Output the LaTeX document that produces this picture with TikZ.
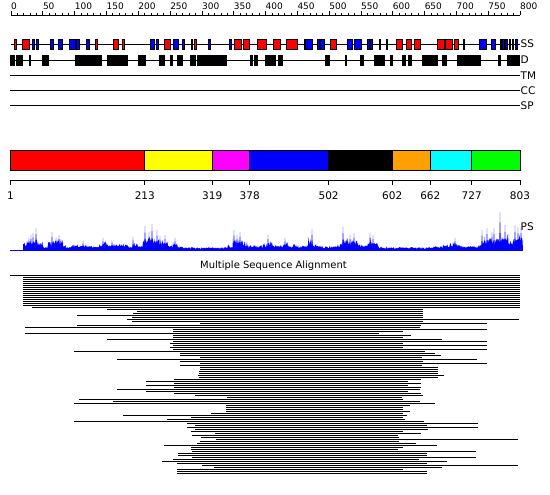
\documentclass[tikz,border=0pt]{standalone}
\usepackage{fontspec}
\setmainfont{DejaVu Sans}
\definecolor{dred}{RGB}{255,0,0}
\definecolor{dyellow}{RGB}{255,255,0}
\definecolor{dmagenta}{RGB}{255,0,255}
\definecolor{dcyan}{RGB}{0,255,255}
\definecolor{dorange}{RGB}{255,160,0}
\definecolor{dgreen}{RGB}{0,255,0}
\definecolor{psblue}{RGB}{0,0,255}
\begin{document}
\begin{tikzpicture}[x=1pt,y=-1pt,
  toplab/.style={inner sep=0pt, font=\fontsize{9}{10}\selectfont},
  botlab/.style={inner sep=0pt, font=\fontsize{10.5}{12}\selectfont},
  trklab/.style={inner sep=0pt, anchor=base west, font=\fontsize{10.5}{12}\selectfont},
  ssbox/.style={draw=black, line width=0.8pt},
  trkline/.style={line width=0.9pt},
  msa/.style={line width=1.2pt},
]
\useasboundingbox (0,0) rectangle (550,495);

% ---------- top ruler ----------
\draw[trkline] (11,15) -- (520,15);
\foreach \p in {0,10,...,800} \draw[line width=0.7pt] ({11+\p*0.63625},15) -- ({11+\p*0.63625},13);
\foreach[count=\n] \p in {0,50,...,800} {
  \draw[line width=0.7pt] ({11+\p*0.63625},15) -- ({11+\p*0.63625},11.5);
  \node[toplab, anchor=base west] (rl\n) at ({11+\p*0.63625},10) {\p};
}

% ---------- SS track ----------
\draw[trkline] (11,44) -- (520,44);
\foreach \a/\b in {14.3/16, 22.7/29.3, 95.3/97.3, 113.3/118.3, 122.3/124.3, 164.7/170.3, 194.3/196.3, 234.3/241.7, 243.3/249.3, 257.7/266, 273.3/280, 286/297.3, 330.7/336, 396.3/402.7, 406.7/411.7, 414.3/420, 437.3/444, 445.3/452.7, 454.3/458.7, 463/464.3, 509.3/510.3}
  \filldraw[ssbox, fill=dred] (\a,39.5) rectangle (\b,49);
\foreach \a/\b in {32.7/34.3, 36.3/38.3, 50.7/53.3, 58.7/62, 69.3/75.3, 76.3/79, 86.7/89.3, 150.7/154, 156/158.3, 173.3/178.3, 182.7/184.7, 191.3/192.7, 208.3/210.7, 229.3/231.3, 304/305, 305.7/312.7, 317.3/319.3, 320.7/324.3, 347.7/352.3, 354/361.7, 367.3/369, 370.7/372.7, 479.3/486, 491.7/495, 500.3/501.7, 502.7/504.3, 505.3/507, 512.3/513.7, 515.3/517}
  \filldraw[ssbox, fill=psblue] (\a,39.5) rectangle (\b,49);
\foreach \a/\b in {379.3/380.3, 386/387}
  \filldraw[ssbox, fill=black] (\a,39.5) rectangle (\b,49);
\node[trklab] (ss) at (520.5,47.7) {SS};

% ---------- D track ----------
\draw[trkline] (10,60) -- (520,60);
\foreach \a/\b in {10/14, 16/22.7, 29.3/30.7, 42/48.7, 75.3/101.7, 107.3/108, 109/115, 116.7/127.7, 138.3/145, 159/164.7, 170/172.7, 177/182, 190.7/195.3, 197/226.7, 250/252.7, 254/257.3, 265/275, 278.3/279.3, 280.7/282.3, 325/329, 345.3/346, 360.3/363.7, 374/377, 378.7/384.3, 390.7/392, 402.3/405, 408.3/411, 422.7/437.7, 442.7/446, 457.3/466, 467.7/480, 498.7/500, 507.7/514, 515/519}
  \filldraw[ssbox, fill=black] (\a,55) rectangle (\b,65);
\node[trklab] (d) at (520.5,64) {D};

% ---------- TM / CC / SP ----------
\draw[trkline] (10,75) -- (520,75);
\node[trklab] (tm) at (520.5,80) {TM};
\draw[trkline] (10,90) -- (520,90);
\node[trklab] (cc) at (520.5,95) {CC};
\draw[trkline] (10,105) -- (520,105);
\node[trklab] (sp) at (520.5,109.5) {SP};

% ---------- domain bar ----------
\foreach \a/\b/\c in {10/144.8/dred, 144.8/212.2/dyellow, 212.2/249.7/dmagenta, 249.7/328.6/psblue, 328.6/392.2/black, 392.2/430.3/dorange, 430.3/471.7/dcyan, 471.7/520/dgreen}
  \filldraw[draw=black, line width=0.9pt, fill=\c] (\a,150) rectangle (\b,170);

% ---------- lower ruler ----------
\draw[trkline] (10,180.5) -- (520,180.5);
\foreach[count=\n] \x/\t in {10.5/1, 144.8/213, 212.2/319, 249.7/378, 328.6/502, 392.2/602, 430.3/662, 471.7/727, 520/803} {
  \draw[line width=0.8pt] (\x,180.5) -- (\x,185.5);
  \node[botlab, anchor=base] (bl\n) at (\x,199.5) {\t};
}

% ---------- PS profile ----------
\pgfmathsetseed{4242}
\draw[psblue, line width=0.9pt] (10,250) -- (523,250);
\fill[psblue] (23,250)
  \foreach \s/\h in {23/12, 28/14, 33/16, 38/10, 43/5, 48/12, 53/13, 58/12, 63/7, 68/6, 73/7, 78/6, 83/8, 88/6, 93/5, 98/7, 103/10, 108/7, 113/8, 118/9, 123/8, 128/6, 133/10, 138/6, 143/16, 148/18, 153/16, 158/14, 163/11, 168/6, 173/9, 178/5, 183/4, 188/4, 193/3.5, 198/3.5, 203/3.5, 208/4, 213/3.5, 218/3.5, 223/4, 228/6, 233/15, 238/14, 243/9, 248/6, 253/7, 258/7, 263/8, 268/11, 273/7, 278/6, 283/10, 288/6, 293/7, 298/5, 303/6, 308/14, 313/8, 318/6, 323/5, 328/5, 333/6, 338/9, 343/15, 348/12, 353/13, 358/8, 363/6, 368/13, 373/11, 378/5, 383/4, 388/4, 393/3.5, 398/4, 403/3.5, 408/4, 413/3.5, 418/4, 423/3.5, 428/4, 433/5, 438/5, 443/7, 448/8, 453/10, 458/7, 463/5, 468/6, 473/5, 478/7, 483/15, 488/16, 493/15, 498/16, 503/17, 508/12, 513/17, 518/18}{
    \foreach \k in {0,...,9}{ -- ({\s+\k*0.5},{250-\h*(0.3+0.4*rnd+0.3*rnd^5)}) }
  } -- (523,250) -- cycle;
\foreach \x/\h in {31/15, 33/17, 36/22, 52/18, 56/12, 59/15, 83/9, 103/12, 112/10, 133/13, 145/24, 149/18, 152/26, 157/20, 160/14, 165/15, 175/12, 234/20, 237/15, 240/18, 268/15, 285/12, 312/21, 343/23, 350/15, 354/17, 370/17, 373/15, 455/12, 482/20, 487/22, 492/18, 494/22, 500/38, 505/25, 508/16, 515/25, 518/23, 521/23}
  \fill[psblue] ({\x-0.9},250) -- (\x,{250-\h}) -- ({\x+0.9},250) -- cycle;
\node[trklab] (ps) at (520.5,230) {PS};

% ---------- MSA ----------
\node[inner sep=0pt, anchor=base, font=\fontsize{10}{12}\selectfont] (msatitle) at (273.5,269) {Multiple Sequence Alignment};
\foreach \i/\a/\b in {0/10/520, 1/23/520, 2/23/520, 3/23/520, 4/23/520, 5/23/520, 6/23/520, 7/23/520, 8/23/520, 9/23/520, 10/23/520, 11/23/520, 12/23/520, 13/23/520, 14/23/520, 15/23/520, 16/32/520,
 17/107/423, 18/137/423, 19/133/423, 20/77/423, 21/132/423, 22/127/519, 23/132/423, 24/200/487, 25/77/421, 26/25/420, 27/173/487, 28/173/403, 29/25/379, 30/173/411, 31/173/403, 32/107/442, 33/173/487, 34/170/403, 35/173/487, 36/170/403, 37/173/487, 38/74/425, 39/180/435, 40/180/441, 41/200/422, 42/117/477, 43/180/423, 44/200/487, 45/180/422, 46/200/438, 47/200/438, 48/199/438, 49/199/438, 50/198/444, 51/199/438, 52/174/421, 53/146/408, 54/174/421, 55/146/408, 56/174/421, 57/117/420, 58/146/408, 59/174/421, 60/195/423, 61/227/402, 62/79/403, 63/113/420, 64/74/435, 65/226/410, 66/226/403, 67/226/403, 68/226/410, 69/211/403, 70/123/407, 71/191/403, 72/167/405, 73/74/424, 74/187/478, 75/195/427, 76/187/478, 77/195/428, 78/191/403, 79/215/421, 80/192/398, 81/201/399, 82/216/518, 83/200/399, 84/197/416, 85/164/437, 86/191/403, 87/191/398, 88/192/476, 89/178/427, 90/178/427, 91/192/476, 92/173/419, 93/162/447, 94/177/427, 95/202/518, 96/214/442, 97/177/403, 98/177/427, 99/177/427}
  \draw[msa] (\a,{275.3+2*\i}) -- (\b,{275.3+2*\i});
\end{tikzpicture}
\end{document}
